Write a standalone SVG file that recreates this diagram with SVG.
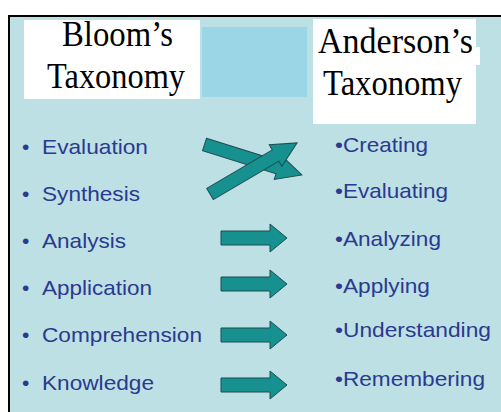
<svg xmlns="http://www.w3.org/2000/svg" width="501" height="412" viewBox="0 0 501 412">
<style>
.hdr{font-family:"Liberation Serif","Times New Roman",serif;font-size:35px;fill:#000}
.item{font-family:"Liberation Sans",Arial,sans-serif;font-size:21px;fill:#2b3990}
.arrow{fill:#17918f;stroke:#1d4d52;stroke-width:1;stroke-linejoin:miter}
</style>
<defs>
<path id="straight" d="M0,-7 L49,-7 L49,-14 L66,0 L49,14 L49,7 L0,7 Z"/>
</defs>
<rect x="0" y="0" width="501" height="412" fill="#ffffff"/>
<rect x="9" y="16" width="500" height="400" fill="#bde0e4" stroke="#000" stroke-width="2"/>
<g id="bloom-header">
<rect x="24" y="20" width="176" height="79" fill="#ffffff"/>
<text class="hdr" x="62" y="46" textLength="111" lengthAdjust="spacingAndGlyphs">Bloom’s</text>
<text class="hdr" x="47" y="88" textLength="138" lengthAdjust="spacingAndGlyphs">Taxonomy</text>
</g>
<rect x="202" y="27" width="105" height="70" fill="#9ad6e6"/>
<g id="anderson-header">
<rect x="313" y="19" width="163" height="105" fill="#ffffff"/>
<rect x="474" y="47" width="6" height="18" fill="#ffffff"/>
<text class="hdr" x="318" y="53" textLength="155" lengthAdjust="spacingAndGlyphs">Anderson’s</text>
<text class="hdr" x="323" y="95" textLength="139" lengthAdjust="spacingAndGlyphs">Taxonomy</text>
</g>
<g id="bloom-list">
<g id="b-evaluation"><text class="item" x="22" y="154">•</text><text class="item" x="42" y="154" textLength="106" lengthAdjust="spacingAndGlyphs">Evaluation</text></g>
<g id="b-synthesis"><text class="item" x="22" y="201">•</text><text class="item" x="42" y="201" textLength="98" lengthAdjust="spacingAndGlyphs">Synthesis</text></g>
<g id="b-analysis"><text class="item" x="22" y="248">•</text><text class="item" x="42" y="248" textLength="84" lengthAdjust="spacingAndGlyphs">Analysis</text></g>
<g id="b-application"><text class="item" x="22" y="295">•</text><text class="item" x="42" y="295" textLength="110" lengthAdjust="spacingAndGlyphs">Application</text></g>
<g id="b-comprehension"><text class="item" x="22" y="342">•</text><text class="item" x="42" y="342" textLength="160" lengthAdjust="spacingAndGlyphs">Comprehension</text></g>
<g id="b-knowledge"><text class="item" x="22" y="390">•</text><text class="item" x="42" y="390" textLength="112" lengthAdjust="spacingAndGlyphs">Knowledge</text></g>
</g>
<g id="anderson-list">
<g id="a-creating"><text class="item" x="335" y="152" textLength="93" lengthAdjust="spacingAndGlyphs">•Creating</text></g>
<g id="a-evaluating"><text class="item" x="335" y="198" textLength="113" lengthAdjust="spacingAndGlyphs">•Evaluating</text></g>
<g id="a-analyzing"><text class="item" x="335" y="246" textLength="106" lengthAdjust="spacingAndGlyphs">•Analyzing</text></g>
<g id="a-applying"><text class="item" x="335" y="293" textLength="95" lengthAdjust="spacingAndGlyphs">•Applying</text></g>
<g id="a-understanding"><text class="item" x="335" y="337" textLength="156" lengthAdjust="spacingAndGlyphs">•Understanding</text></g>
<g id="a-remembering"><text class="item" x="335" y="386" textLength="150" lengthAdjust="spacingAndGlyphs">•Remembering</text></g>
</g>
<g id="connectors">
<path class="arrow" transform="translate(204.5,144.5) rotate(17.4)" d="M0,-6.5 L77,-6.5 L77,-12.5 L102,0 L77,12.5 L77,6.5 L0,6.5 Z"/>
<path class="arrow" transform="translate(210,194) rotate(-30.4)" d="M0,-6.5 L76,-6.5 L76,-12.5 L101,0 L76,12.5 L76,6.5 L0,6.5 Z"/>
<use href="#straight" class="arrow" x="221" y="238"/>
<use href="#straight" class="arrow" x="221" y="284"/>
<use href="#straight" class="arrow" x="221" y="335"/>
<use href="#straight" class="arrow" x="221" y="385"/>
</g>
</svg>
